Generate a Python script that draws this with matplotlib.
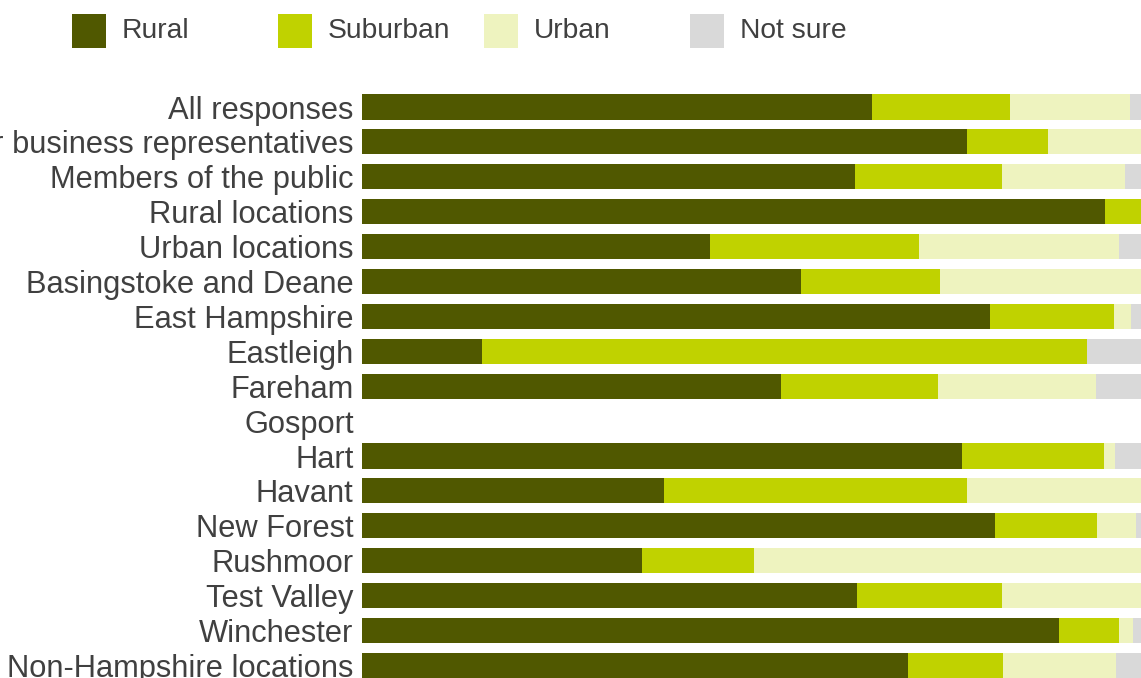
import numpy as np
import matplotlib.pyplot as plt
from matplotlib.patches import Rectangle

plt.rcParams['font.family'] = ['Liberation Sans', 'DejaVu Sans']

groups = [
    'All responses',
    'Organisation or business representatives',
    'Members of the public',
    'Rural locations',
    'Urban locations',
    'Basingstoke and Deane',
    'East Hampshire',
    'Eastleigh',
    'Fareham',
    'Gosport',
    'Hart',
    'Havant',
    'New Forest',
    'Rushmoor',
    'Test Valley',
    'Winchester',
    'Non-Hampshire locations',
]

# percentages (Gosport has no responses)
rural = [65.5, 77.7, 63.3, 95.4, 44.7, 56.4, 80.6, 15.4, 53.8, 0, 77.0, 38.8, 81.3, 35.9, 63.5, 89.5, 70.1]
suburban = [17.7, 10.4, 18.9, 4.6, 26.8, 17.8, 15.9, 77.7, 20.2, 0, 18.2, 38.9, 13.1, 14.4, 18.7, 7.7, 12.2]
urban = [15.4, 11.9, 15.8, 0, 25.7, 25.8, 2.2, 0, 20.2, 0, 1.5, 22.3, 5.0, 49.7, 17.8, 1.8, 14.5]
not_sure = [1.4, 0, 2.0, 0, 2.8, 0, 1.3, 6.9, 5.8, 0, 3.3, 0, 0.6, 0, 0, 1.0, 3.2]

series = [('Rural', rural), ('Suburban', suburban), ('Urban', urban), ('Not sure', not_sure)]
colors = ['#505800', '#C0D200', '#EEF3BF', '#D9D9D9']
text_color = '#404040'

W, H = 1141, 678
fig = plt.figure(figsize=(W / 100, H / 100), dpi=100)

# axes placed so that row 0 sits at y~107 px and rows are ~34.9 px apart
row_px = 34.9
top_px = 107 - row_px / 2
bottom_row = (H - 107) / row_px
ax = fig.add_axes([362 / W, 0, 779 / W, 1 - top_px / H])

y = np.arange(len(groups))
left = np.zeros(len(groups))
for (name, vals), c in zip(series, colors):
    vals = np.array(vals)
    ax.barh(y, vals, left=left, height=0.72, color=c, edgecolor='none', label=name)
    left += vals

ax.set_xlim(0, 100)
ax.set_ylim(bottom_row, -0.5)
ax.set_yticks(y)
ax.set_yticklabels(groups, fontsize=22.2, color=text_color)
ax.tick_params(axis='y', length=0, pad=6)
ax.set_xticks([])
for s in ax.spines.values():
    s.set_visible(False)

# legend: equally spaced entries across the top
for i, ((name, _), c) in enumerate(zip(series, colors)):
    x0 = 72 + 206 * i
    fig.patches.append(Rectangle((x0 / W, 1 - 48 / H), 34 / W, 34 / H,
                                 transform=fig.transFigure, facecolor=c,
                                 edgecolor='none'))
    fig.text((x0 + 50) / W, 1 - 31 / H, name, fontsize=20.3, color=text_color,
             va='center', ha='left')

fig.savefig('out.png', dpi=100)
